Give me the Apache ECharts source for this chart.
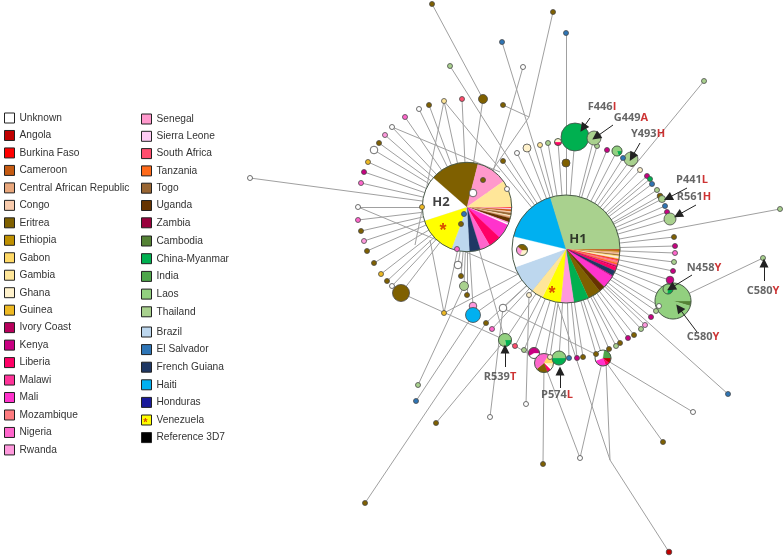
<!DOCTYPE html>
<html><head><meta charset="utf-8">
<style>html,body{margin:0;padding:0;background:#fff}#c{width:784px;height:556px}</style>
<script src="https://cdn.jsdelivr.net/npm/echarts@6/dist/echarts.min.js"></script>
</head><body><div id="c"></div>
<script>
const countryColors = {
 'Unknown':'#ffffff','Angola':'#c00000','Burkina Faso':'#ff0000','Cameroon':'#c55a11','Central African Republic':'#e9a77c','Congo':'#f8cbad',
 'Eritrea':'#7f6000','Ethiopia':'#bf9000','Gabon':'#ffd966','Gambia':'#ffe699','Ghana':'#fff2cc','Guinea':'#eeb922','Ivory Coast':'#b8005c',
 'Kenya':'#c90082','Liberia':'#ff0066','Malawi':'#ff3399','Mali':'#ff33cc','Mozambique':'#ff7c80','Nigeria':'#ff66cc','Rwanda':'#ff99dd',
 'Senegal':'#ff99cc','Sierra Leone':'#ffccf5','South Africa':'#ff4d6d','Tanzania':'#ff6a1a','Togo':'#996633','Uganda':'#663300','Zambia':'#99003d',
 'Cambodia':'#548235','China-Myanmar':'#00b050','India':'#4ea64a','Laos':'#92d07f','Thailand':'#a9d18e',
 'Brazil':'#bdd7ee','El Salvador':'#2e75b6','French Guiana':'#1f3864','Haiti':'#00b0f0','Honduras':'#1a1a9a','Venezuela':'#ffff00','Reference 3D7':'#000000'
};
const legendCol1 = ['Unknown','Angola','Burkina Faso','Cameroon','Central African Republic','Congo','Eritrea','Ethiopia','Gabon','Gambia','Ghana','Guinea','Ivory Coast','Kenya','Liberia','Malawi','Mali','Mozambique','Nigeria','Rwanda'];
const legendCol2a = ['Senegal','Sierra Leone','South Africa','Tanzania','Togo','Uganda','Zambia'];
const legendCol2b = ['Cambodia','China-Myanmar','India','Laos','Thailand'];
const legendCol2c = ['Brazil','El Salvador','French Guiana','Haiti','Honduras','Venezuela','Reference 3D7'];

const H1 = [566,249];
const H2 = [467,207];
// x, y, radius, country, hub link (1 = H1, 2 = H2, 3 = both, 0 = only in otherLinks)
const singleNodes = [
 [432,4,2.5,'Eritrea',0],[553,12,2.5,'Eritrea',0],[566,33,2.5,'El Salvador',0],[502,42,2.5,'El Salvador',1],[523,67,2.5,'Unknown',0],[450,66,2.5,'Thailand',1],
 [483,99,4.5,'Eritrea',2],[462,99,2.5,'South Africa',2],[444,101,2.5,'Gambia',3],[429,105,2.5,'Eritrea',2],[419,109,2.5,'Unknown',2],[405,117,2.5,'Nigeria',2],
 [392,127,2.5,'Unknown',2],[385,135,2.5,'Rwanda',2],[379,143,2.5,'Eritrea',2],[374,150,3.8,'Unknown',2],[368,162,2.5,'Guinea',2],[364,172,2.5,'Kenya',2],[361,183,2.5,'Nigeria',2],
 [250,178,2.5,'Unknown',2],[358,207,2.5,'Unknown',2],[358,220,2.5,'Nigeria',2],[361,231,2.5,'Eritrea',2],[364,241,2.5,'Rwanda',2],[367,251,2.5,'Eritrea',2],[374,263,2.5,'Eritrea',2],
 [381,274,2.5,'Guinea',2],[387,281,2.5,'Eritrea',2],[392,286,2.5,'Unknown',2],[401,293,8.5,'Eritrea',2],[444,313,2.5,'Guinea',3],[422,207,2.5,'Guinea',2],
 [458,265,3.8,'Unknown',2],[461,276,2.5,'Eritrea',2],[464,286,4.5,'Thailand',2],[467,295,2.5,'Eritrea',2],[473,306,3.8,'Rwanda',2],[473,315,7.5,'Haiti',1],[503,308,3.8,'Unknown',1],
 [486,323,2.5,'Eritrea',1],[492,329,2.5,'Nigeria',1],[515,346,2.5,'South Africa',1],[524,350,2.5,'Thailand',1],[550,357,2.5,'Ghana',1],[569,358,2.5,'El Salvador',1],[577,358,2.5,'Kenya',1],[583,357,2.5,'Eritrea',1],
 [596,354,2.5,'Eritrea',1],[609,349,2.5,'Eritrea',1],[616,346,2.5,'Thailand',1],[620,343,2.5,'Eritrea',1],[628,338,2.5,'Kenya',1],[634,335,2.5,'Eritrea',1],[641,329,2.5,'Thailand',1],[645,325,2.5,'Rwanda',1],
 [651,317,2.5,'Kenya',1],[656,311,2.5,'Thailand',1],[659,306,2.5,'Unknown',1],[670,280,3.8,'Kenya',1],[673,271,2.5,'Kenya',1],[674,262,2.5,'Thailand',1],[675,253,2.5,'Nigeria',1],[675,246,2.5,'Kenya',1],[674,237,2.5,'Eritrea',1],
 [780,209,2.5,'Thailand',1],[670,219,6,'Thailand',1],[667,212,2.5,'Kenya',1],[665,206,2.5,'El Salvador',1],[662,199,3.5,'Thailand',1],[660,196,2.8,'Eritrea',1],[657,190,2.5,'Thailand',1],[652,184,2.5,'El Salvador',1],[650,179,2.5,'China-Myanmar',1],[647,176,2.5,'Kenya',1],[640,170,2.5,'Ghana',1],
 [704,81,2.5,'Thailand',1],[631,159,7,'Thailand',1],[632,164,2.5,'Eritrea',0],[623,158,2.5,'El Salvador',1],[607,150,2.5,'Kenya',1],[597,146,2.5,'Thailand',1],[594,138,7,'Thailand',1],[575,137,14,'China-Myanmar',1],
 [566,163,4,'Eritrea',1],[548,143,2.5,'Thailand',1],[540,145,2.5,'Gambia',1],[527,148,4,'Ghana',1],[517,153,2.5,'Unknown',1],[503,161,2.5,'Eritrea',1],[503,105,2.5,'Eritrea',0],
 [483,180,2.5,'Eritrea',0],[473,193,3.8,'Unknown',0],[507,189,2.5,'Unknown',0],[464,214,2.5,'El Salvador',0],[461,224,2.5,'Eritrea',0],[457,249,2.5,'Nigeria',0],[529,295,2.5,'Ghana',1],
 [763,258,2.5,'Thailand',0],[418,385,2.5,'Thailand',0],[416,401,2.5,'El Salvador',0],[490,417,2.5,'Unknown',0],[526,404,2.5,'Unknown',0],[436,423,2.5,'Eritrea',0],[365,503,2.5,'Eritrea',0],
 [543,464,2.5,'Eritrea',0],[580,458,2.5,'Unknown',0],[663,442,2.5,'Eritrea',0],[693,412,2.5,'Unknown',0],[728,394,2.5,'El Salvador',1],[669,552,2.8,'Angola',0]
];
// pie x, y, radius, hub link, [country, share] listed clockwise from the east
const pieH1 = [566,249,54,0,[['Angola',.8],['Cameroon',1.2],['Ethiopia',1.2],['Central African Republic',1.5],['Congo',1],['Togo',1.5],['Gabon',1],['Ghana',1.2],['Sierra Leone',1],['Guinea',1],['Burkina Faso',.6],['South Africa',1.2],['Mozambique',2],['Tanzania',1.8],['Malawi',1.5],['Zambia',1],['Liberia',4.4],['French Guiana',5.4],['Kenya',1.5],['Mali',13.6],['Uganda',6.5],['Eritrea',14],['China-Myanmar',16],['Rwanda',14],['Venezuela',20],['Gambia',13],['Brazil',31],['Unknown',33],['Haiti',59],['Thailand',106]]];
const pieH2 = [467,207,44.7,0,[['Burkina Faso',1.2],['Sierra Leone',2],['Cameroon',2.5],['Congo',2],['Togo',3],['Ghana',1.5],['Central African Republic',2],['Uganda',5.5],['Rwanda',2],['Unknown',1.8],['Mali',19],['Liberia',16],['Nigeria',13],['French Guiana',14],['Brazil',23],['Venezuela',51],['Unknown',58],['Eritrea',62],['Senegal',40],['Gambia',34.5]]];
const smallPies = [
 [522,250,5.5,0,[['Ghana',110],['Rwanda',110],['Eritrea',140]]],
 [505,340,6.5,3,[['China-Myanmar',80],['Laos',280]]],
 [534,353,5.5,1,[['Unknown',150],['Kenya',210]]],
 [544,363,9.5,1,[['Ghana',30],['Unknown',15],['Liberia',25],['Eritrea',70],['Nigeria',160],['Gabon',60]]],
 [559,358,7,1,[['China-Myanmar',180],['Laos',180]]],
 [603,358,8,1,[['Angola',40],['Liberia',30],['Mali',90],['Unknown',120],['India',80]]],
 [617,151,5,1,[['China-Myanmar',70],['Laos',290]]],
 [558,142,3.5,1,[['Liberia',180],['Ghana',180]]],
 [673,301,18,1,[['Cambodia',16],['Laos',344]]],
 [668,289,5,1,[['China-Myanmar',100],['Laos',260]]]
];
// extra edges between two read positions
const otherLinks = [
 [432,4,483,99],[553,12,529,117],[503,105,529,117],[529,117,467,207],[566,33,566,163],[523,67,483,207],
 [358,207,540,283],[392,127,500,172],[444,101,415,245],[444,313,430,240],[401,293,505,340],[505,340,544,363],[503,308,603,358],
 [763,258,673,301],[418,385,464,286],[416,401,473,315],[490,417,503,308],[526,404,529,295],[436,423,505,340],[365,503,486,323],
 [543,464,544,363],[580,458,544,363],[580,458,603,358],[663,442,603,358],[693,412,603,358],[669,552,610,460],[610,460,606,362],[610,460,558,304]
];
const arrows = [[590,118,583,128],[613,125,596,137],[640,143,632,157],[687,188,668,198],[696,205,678,215],[692,275,671,288],[697,332,679,308],[764,281,764,263],[505,367,505,349],[560,388,560,371]];
const mutationLabels = [[602,107,'F446','I'],[631,118,'G449','A'],[648,134,'Y493','H'],[692,180,'P441','L'],[694,197,'R561','H'],[704,268,'N458','Y'],[763,291,'C580','Y'],[703,337,'C580','Y'],[500,377,'R539','T'],[557,395,'P574','L']];
const hubLabels = [[578,239,'H1'],[441,202,'H2']];
const stars = [[552,294,18],[443,231,18],[145.5,423,11]];

const links = [];
singleNodes.concat(smallPies).forEach(n => {
  const isPie = Array.isArray(n[4]);
  const hub = isPie ? n[3] : n[4];
  if (hub & 1) links.push([n[0],n[1],H1[0],H1[1]]);
  if (hub & 2) links.push([n[0],n[1],H2[0],H2[1]]);
});
otherLinks.forEach(l => links.push(l));

const allPies = [pieH1, pieH2].concat(smallPies);
const LEG_FONT = {color:'#333',fontFamily:'Liberation Sans, Arial, sans-serif',fontSize:10.2,lineHeight:11};
const legendItems = a => a.map(name => ({name,icon:'rect',itemStyle:{color:countryColors[name],borderColor:'#222',borderWidth:1}}));
const mkLegend = (data,left,top,gap) => ({show:true,orient:'vertical',left,top,padding:0,itemWidth:10,itemHeight:10,itemGap:gap,selectedMode:false,textStyle:LEG_FONT,data:legendItems(data)});

const countrySeries = Object.keys(countryColors).map(name => ({
  name,type:'scatter',z:4,silent:true,
  data:singleNodes.filter(n=>n[3]===name).map(n=>[n[0],n[1],n[2]]),
  symbol:'circle',symbolSize:v=>v[2]*2,clip:false,
  itemStyle:{color:countryColors[name],borderColor:'#4a4a4a',borderWidth:.8,opacity:1}
}));

const chart = echarts.init(document.getElementById('c'),null,{renderer:'canvas'});
chart.setOption({
  animation:false,backgroundColor:'#fff',
  grid:{left:0,right:0,top:0,bottom:0,containLabel:false},
  xAxis:{type:'value',min:0,max:784,show:false},
  yAxis:{type:'value',min:0,max:556,inverse:true,show:false},
  legend:[mkLegend(legendCol1,4,112.5,6.47),mkLegend(legendCol2a,141,113.5,6.3),mkLegend(legendCol2b,141,235.5,6.7),mkLegend(legendCol2c,141,326.5,6.6)],
  series:[
   {type:'lines',coordinateSystem:'cartesian2d',z:1,silent:true,polyline:false,
    data:links.map(l=>({coords:[[l[0],l[1]],[l[2],l[3]]]})),
    lineStyle:{color:'#a0a0a0',width:1,opacity:1},symbol:'none'},
   {type:'custom',coordinateSystem:'cartesian2d',z:3,silent:true,clip:false,
    data:allPies.map((p,i)=>[p[0],p[1],i]),
    encode:{x:0,y:1},
    renderItem:(params,api)=>{
      const p=allPies[api.value(2)],c=api.coord([p[0],p[1]]),r=p[2];
      const total=p[4].reduce((s,x)=>s+x[1],0);
      let a=0;const children=[];
      p[4].forEach(s=>{
        const e=a+s[1]/total*Math.PI*2;
        children.push({type:'sector',shape:{cx:c[0],cy:c[1],r,r0:0,startAngle:a,endAngle:e,clockwise:true},
          style:{fill:countryColors[s[0]],stroke:countryColors[s[0]],lineWidth:.3}});
        a=e;
      });
      children.push({type:'circle',shape:{cx:c[0],cy:c[1],r},style:{fill:'none',stroke:'#4a5a4a',lineWidth:1}});
      return {type:'group',children};
    }},
   ...countrySeries,
   {type:'lines',coordinateSystem:'cartesian2d',z:6,silent:true,
    data:arrows.map(l=>({coords:[[l[0],l[1]],[l[2],l[3]]]})),
    lineStyle:{color:'#222',width:1,opacity:1},symbol:['none','triangle'],symbolSize:9},
   {type:'scatter',z:7,silent:true,symbolSize:0,clip:false,
    data:mutationLabels.map(l=>({value:[l[0],l[1]],a:l[2],b:l[3]})),
    label:{show:true,position:'inside',
      formatter:p=>'{a|'+p.data.a+'}{b|'+p.data.b+'}',
      rich:{a:{color:'#404040',fontWeight:'bold',fontSize:11,fontFamily:'Open Sans'},b:{color:'#c00000',fontWeight:'bold',fontSize:11,fontFamily:'Open Sans'}}}},
   {type:'scatter',z:7,silent:true,symbolSize:0,clip:false,
    data:hubLabels.map(l=>({value:[l[0],l[1]],name:l[2]})),
    label:{show:true,position:'inside',formatter:'{b}',color:'#111',fontWeight:'bold',fontSize:13,fontFamily:'Open Sans'}},
   {type:'scatter',z:7,silent:true,symbolSize:0,clip:false,
    data:stars.map(s=>({value:[s[0],s[1]],label:{fontSize:s[2]}})),
    label:{show:true,position:'inside',formatter:'*',color:'#d02000',fontWeight:'bold',fontFamily:'Liberation Sans'}}
  ]
});
</script></body></html>
